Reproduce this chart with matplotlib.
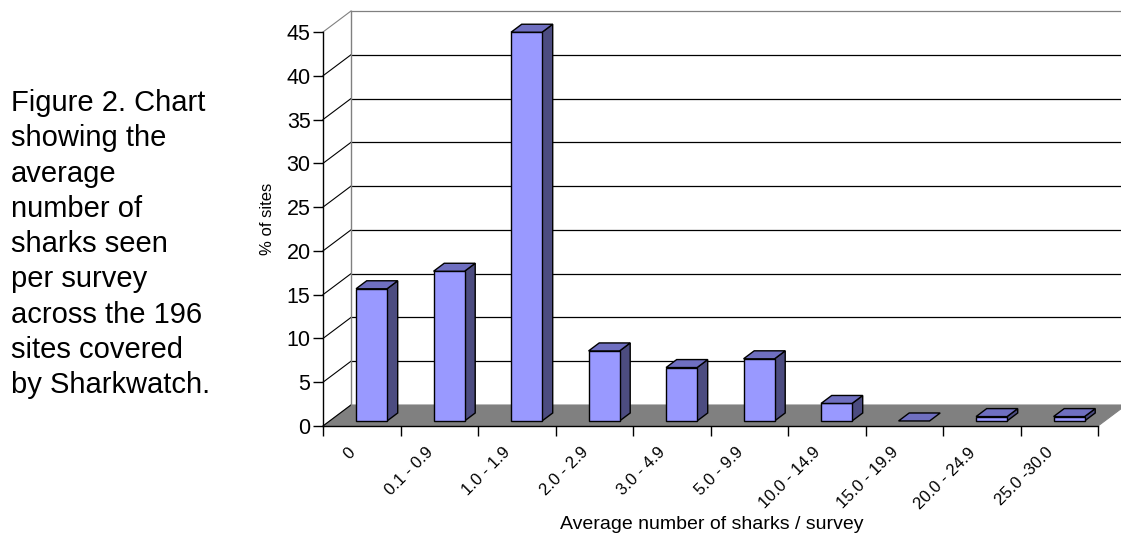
import matplotlib.pyplot as plt
from matplotlib.patches import Polygon
from matplotlib.transforms import ScaledTranslation

plt.rcParams['font.family'] = ['Liberation Sans', 'DejaVu Sans']

# share of sites per band of average sharks seen per survey
categories = ['0', '0.1 - 0.9', '1.0 - 1.9', '2.0 - 2.9', '3.0 - 4.9',
              '5.0 - 9.9', '10.0 - 14.9', '15.0 - 19.9', '20.0 - 24.9', '25.0 -30.0']
pct_sites = [15.1, 17.1, 44.4, 8.0, 6.1, 7.1, 2.0, 0.0, 0.5, 0.5]
y_ticks = [0, 5, 10, 15, 20, 25, 30, 35, 40, 45]

caption = ("Figure 2. Chart\nshowing the\naverage\nnumber of\nsharks seen\n"
           "per survey\nacross the 196\nsites covered\nby Sharkwatch.")

W, H = 1121, 542
fig = plt.figure(figsize=(W / 100, H / 100), dpi=100)
ax = fig.add_axes([323 / W, 116 / H, 775 / W, 394 / H])
n = len(categories)
ymax = 45
ax.set_xlim(0, n)
ax.set_ylim(0, ymax)

# depth of the pseudo-3d box, in data units
DX = 28 / 77.5
DY = 21 / (394 / 45)

# floor
ax.add_patch(Polygon([(0, 0), (n, 0), (n + DX, DY), (DX, DY)], closed=True,
                     facecolor='#808080', edgecolor='#808080', lw=0.8,
                     clip_on=False, zorder=1))

# back wall grid + side wall lines
for v in y_ticks:
    col = '#808080' if v in (0, ymax) else 'black'
    if v > 0:
        ax.plot([DX, n + DX], [v + DY, v + DY], color=col, lw=0.9,
                clip_on=False, zorder=1)
    ax.plot([0, DX], [v, v + DY], color=col if v == ymax else 'black', lw=0.8,
            clip_on=False, zorder=1)
ax.plot([DX, DX], [DY, ymax + DY], color='#808080', lw=1.0, clip_on=False, zorder=1)

# 3d-looking columns
bw = 0.4
f0, f1 = 0.24, 0.62
for i, v in enumerate(pct_sites):
    x0 = i + 0.34 + f0 * DX
    x1 = x0 + bw
    b = f0 * DY
    t = b + v
    ddx = (f1 - f0) * DX
    ddy = (f1 - f0) * DY
    kw = dict(closed=True, edgecolor='black', lw=1.0, clip_on=False, zorder=3,
              joinstyle='miter')
    if v > 0:
        ax.add_patch(Polygon([(x1, b), (x1 + ddx, b + ddy), (x1 + ddx, t + ddy), (x1, t)],
                             facecolor='#4c4c80', **kw))
        ax.add_patch(Polygon([(x0, b), (x1, b), (x1, t), (x0, t)],
                             facecolor='#9999ff', **kw))
    ax.add_patch(Polygon([(x0, t), (x1, t), (x1 + ddx, t + ddy), (x0 + ddx, t + ddy)],
                         facecolor='#6f6fc0', **kw))

for s in ['top', 'right']:
    ax.spines[s].set_visible(False)
ax.spines['left'].set_linewidth(1.0)
ax.spines['bottom'].set_linewidth(1.0)
ax.patch.set_visible(False)

ax.set_yticks(y_ticks)
ax.tick_params(axis='y', direction='out', length=7, width=1, labelsize=15.5, pad=2)
ax.set_xticks(range(n + 1))
ax.set_xticklabels([])
ax.tick_params(axis='x', which='major', direction='out', length=7, width=1)
ax.set_xticks([i + 0.5 for i in range(n)], minor=True)
ax.set_xticklabels(categories, minor=True, rotation=45, ha='right', va='top',
                   rotation_mode='anchor', fontsize=12)
ax.tick_params(axis='x', which='minor', length=0, pad=13.5)
shift = ScaledTranslation(-0.14, 0, fig.dpi_scale_trans)
for lab in ax.get_xticklabels(minor=True):
    lab.set_transform(lab.get_transform() + shift)

ax.set_ylabel('% of sites', fontsize=12)
ax.yaxis.set_label_coords(-0.062, 0.525)
ax.set_xlabel('Average number of sharks / survey', fontsize=14)
ax.xaxis.set_label_coords(0.501, -0.228)

fig.text(11 / W, 1 - 89 / H, caption, fontsize=21, va='top', ha='left',
         linespacing=1.33)

fig.savefig('out.png', dpi=100)
